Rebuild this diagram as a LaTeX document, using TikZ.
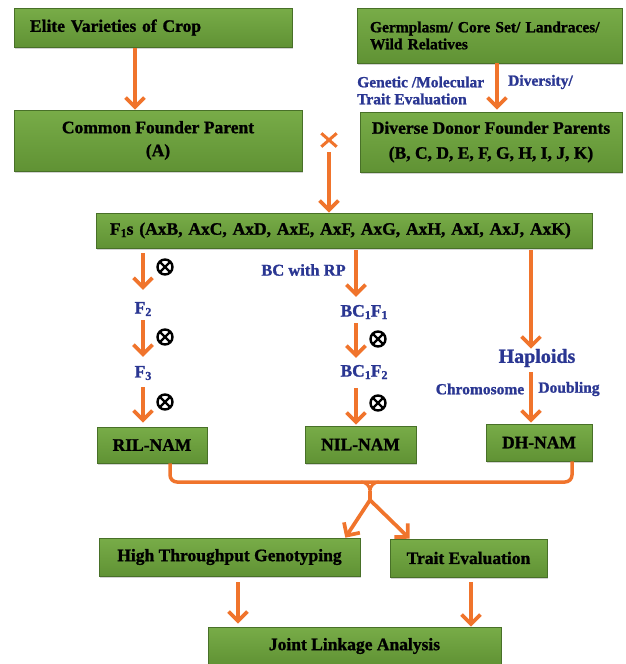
\documentclass[tikz,border=0pt]{standalone}
\usepackage{fontspec}
\setmainfont{Liberation Serif}[BoldFeatures={FakeBold=1.2}]
\usetikzlibrary{arrows.meta,shadows}
\definecolor{boxgreenL}{RGB}{120,172,72}
\definecolor{boxgreenD}{RGB}{96,146,52}
\definecolor{boxedge}{RGB}{72,112,40}
\definecolor{arrorange}{RGB}{240,116,44}
\definecolor{lblblue}{RGB}{42,54,146}
\newcommand\lowsub[1]{\raisebox{-0.3ex}{\fontsize{12}{12}\selectfont #1}}
\begin{document}
\begin{tikzpicture}[x=1pt,y=-1pt,
 box/.style={draw=boxedge, line width=0.6pt, top color=boxgreenL, bottom color=boxgreenD,
   drop shadow={shadow xshift=1.2pt,shadow yshift=-1.6pt,opacity=0.35},
   inner sep=0pt, font=\bfseries\fontsize{17.5}{23}\selectfont, text=black, align=center},
 lbl/.style={inner sep=0pt, text=lblblue, font=\bfseries\fontsize{15.5}{17}\selectfont},
 gen/.style={inner sep=0pt, text=lblblue, font=\bfseries\fontsize{17.5}{20}\selectfont},
 arr/.style={draw=arrorange, line width=3.7pt, -{Straight Barb[length=9.5pt,width=19pt]}},
 oline/.style={draw=arrorange, line width=3.5pt},
 otimes/.style={circle, draw=black, line width=2.4pt, minimum size=15pt, inner sep=0pt,
   path picture={\draw[line width=2.2pt] (path picture bounding box.north west) -- (path picture bounding box.south east)
     (path picture bounding box.north east) -- (path picture bounding box.south west);}}
]
\useasboundingbox (0,0) rectangle (625,664);

% boxes
\node[box, minimum width=278pt, minimum height=39pt, inner xsep=16pt, text width=246pt, align=left] (elite) at (153,27.5) {Elite Varieties of Crop};
\node[box, minimum width=288pt, minimum height=61pt] (common) at (158,140.5) {Common Founder Parent\\(A)};
\node[box, minimum width=265pt, minimum height=55pt, inner xsep=13pt, text width=239pt, align=left,
  font=\bfseries\fontsize{15.5}{17}\selectfont] (germ) at (489.5,35.5) {Germplasm/ Core Set/ Landraces/\\Wild Relatives};
\node[box, minimum width=262pt, minimum height=60pt, font=\bfseries\fontsize{17.5}{25}\selectfont] (donor) at (491,142) {Diverse Donor Founder Parents\\(B, C, D, E, F, G, H, I, J, K)};
\node[box, minimum width=496pt, minimum height=35pt, inner xsep=14pt, text width=468pt, align=left] (F1) at (344,230.5) {F\lowsub{1}s (AxB, AxC, AxD, AxE, AxF, AxG, AxH, AxI, AxJ, AxK)};
\node[box, minimum width=110pt, minimum height=36pt] (RIL) at (152,445) {RIL-NAM};
\node[box, minimum width=111pt, minimum height=37pt] (NIL) at (360.5,444.5) {NIL-NAM};
\node[box, minimum width=106pt, minimum height=37pt] (DH) at (539,442.5) {DH-NAM};
\node[box, minimum width=261pt, minimum height=38pt] (HTG) at (229.5,557) {High Throughput Genotyping};
\node[box, minimum width=157pt, minimum height=38pt] (TE) at (468.5,558) {Trait Evaluation};
\node[box, minimum width=293pt, minimum height=38pt] (JLA) at (354.5,646) {Joint Linkage Analysis};

% labels
\node[lbl, anchor=west] (gm1) at (357,82) {Genetic /Molecular};
\node[lbl, anchor=west] (gm2) at (508,82) {Diversity/};
\node[lbl, anchor=west] (gm3) at (357,99) {Trait Evaluation};
\node[lbl, font=\bfseries\fontsize{16.5}{18}\selectfont] (bcrp) at (303.5,270) {BC with RP};
\node[gen] (F2) at (143,309) {F\lowsub{2}};
\node[gen] (F3) at (143,373) {F\lowsub{3}};
\node[gen] (BC1) at (364,312) {BC\lowsub{1}F\lowsub{1}};
\node[gen] (BC2) at (364,372) {BC\lowsub{1}F\lowsub{2}};
\node[gen, font=\bfseries\fontsize{20}{22}\selectfont] (hap) at (537,358) {Haploids};
\node[lbl] (chr) at (480,389) {Chromosome};
\node[lbl] (dbl) at (569,389) {Doubling};

% selfing symbols
\node[otimes] (o1) at (165,267) {};
\node[otimes] (o2) at (165,337) {};
\node[otimes] (o3) at (165,402) {};
\node[otimes] (o4) at (378,339) {};
\node[otimes] (o5) at (378,403) {};

% cross sign
\node[minimum width=15pt, minimum height=13pt, inner sep=0pt] (cross) at (329,140) {};
\draw[oline, line width=3pt] (cross.north west) -- (cross.south east) (cross.north east) -- (cross.south west);

% arrows top
\draw[arr, shorten <=1pt] ([xshift=-18pt]elite.south) -- ([xshift=-23pt]common.north);
\draw[arr, shorten >=2pt] ([xshift=7.5pt]germ.south) -- ([xshift=6pt]donor.north);
\draw[arr, shorten <=5.5pt] (cross.south) -- ([xshift=-15pt]F1.north);

% left column
\draw[arr, shorten <=5pt, shorten >=12pt] ([xshift=-201pt]F1.south) -- (F2.north);
\draw[arr, shorten <=4pt, shorten >=9pt] (F2.south) -- (F3.north);
\draw[arr, shorten <=7pt, shorten >=4pt] (F3.south) -- ([xshift=-9pt]RIL.north);

% middle column
\draw[arr, shorten <=2pt, shorten >=8pt] ([xshift=12pt]F1.south) -- ([xshift=-8pt]BC1.north);
\draw[arr, shorten <=4pt, shorten >=7pt] ([xshift=-8pt]BC1.south) -- ([xshift=-8pt]BC2.north);
\draw[arr, shorten <=9pt, shorten >=1pt] ([xshift=-8pt]BC2.south) -- ([xshift=-4.5pt]NIL.north);

% right column
\draw[arr, shorten <=2pt] ([xshift=187pt]F1.south) -- ([xshift=-6pt]hap.north);
\draw[arr, shorten <=5pt, shorten >=1pt] ([xshift=-6pt]hap.south) -- ([xshift=-8pt]DH.north);

% bracket
\coordinate (hub) at (370,482);
\coordinate (cusp) at (370,491);
\coordinate (split) at (370,500);
\draw[oline, rounded corners=7pt] ([xshift=18pt]RIL.south) |- (hub) -| ([xshift=33pt]DH.south);
\draw[oline, line width=3pt] ([xshift=-9pt]hub) to[out=0,in=90] (cusp) to[out=90,in=180] ([xshift=9pt]hub);
\draw[oline] (cusp) -- (split);
\draw[arr] (split) -- ([xshift=-15pt]HTG.north east);
\draw[arr] (split) -- ([xshift=20pt]TE.north west);

% bottom arrows
\draw[arr, shorten <=6pt, shorten >=3pt] ([xshift=8.5pt]HTG.south) -- ([xshift=-116.5pt]JLA.north);
\draw[arr, shorten <=5pt] ([xshift=2.5pt]TE.south) -- ([xshift=116.5pt]JLA.north);
\end{tikzpicture}
\end{document}
